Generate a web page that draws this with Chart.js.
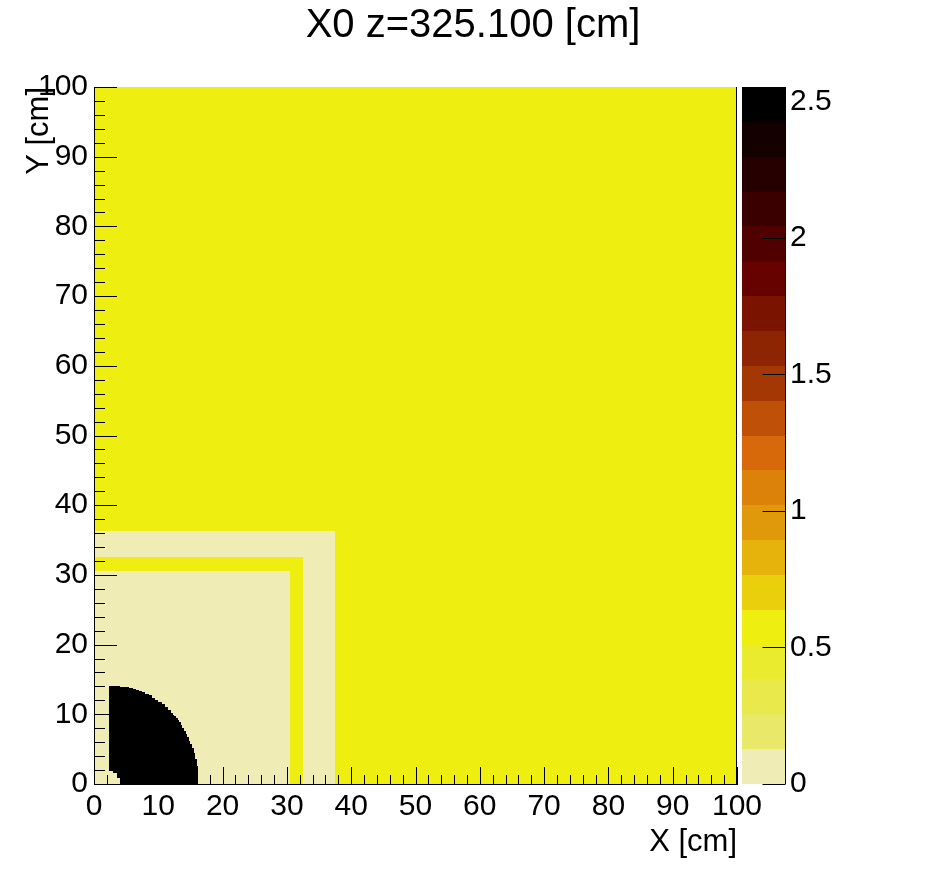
<!DOCTYPE html>
<html>
<head>
<meta charset="utf-8">
<script src="https://cdn.jsdelivr.net/npm/chart.js@4.4.0/dist/chart.umd.min.js"></script>
<style>
  html, body { margin: 0; padding: 0; background: #fff; }
</style>
</head>
<body>
<canvas id="myChart" width="946" height="872"></canvas>
<script>
// histogram regions, painted in order (later ones on top)
const regionX0 = [0, 0, 0, 0];
const regionX1 = [100, 37.5, 32.5, 30.5];
const regionY0 = [0, 0, 0, 0];
const regionY1 = [100, 36.3, 32.5, 30.6];
const regionZ = [0.56, 0.05, 0.56, 0.05];

// dense core near the origin, one column per bin
const coreEdges = [2.4, 3, 3.5, 4, 4.5, 5, 5.5, 6, 6.5, 7, 7.5, 8, 8.5, 9, 9.5, 10,
  10.5, 11, 11.5, 12, 12.25, 12.5, 12.75, 13, 13.25, 13.5, 13.75, 14, 14.25, 14.5,
  14.75, 15, 15.25, 15.5, 15.75, 16, 16.1, 16.2];
const coreBottom = [1.8, 1.55, 0.8, 0, 0, 0, 0, 0, 0, 0, 0, 0, 0, 0, 0, 0,
  0, 0, 0, 0, 0, 0, 0, 0, 0, 0, 0, 0, 0, 0, 0, 0, 0, 0, 0, 0, 0];
const coreTop = [14.0, 14.0, 14.0, 13.95, 13.9, 13.85, 13.75, 13.65, 13.5, 13.35, 13.15, 12.95,
  12.7, 12.4, 12.1, 11.8, 11.45, 11.1, 10.6, 10.25, 9.95, 9.7, 9.45, 9.2, 8.9, 8.5, 8.0,
  7.6, 7.2, 6.7, 6.2, 5.7, 5.2, 4.5, 3.6, 2.6, 1.5];
const coreZ = 2.55;

const axisTicks = [0, 10, 20, 30, 40, 50, 60, 70, 80, 90, 100];
const zMax = 2.553;
const zTicks = [0, 0.5, 1, 1.5, 2, 2.5];

// colour palette, low -> high
const palette = [
  "#EFEDB5", "#E9E868", "#E9E94B", "#EAEA2F", "#EEEE10",
  "#EACF0C", "#E6B20C", "#E0990A", "#DC820A", "#D8690A",
  "#BE5007", "#A43805", "#8E2502", "#7A1401", "#660300",
  "#510000", "#3A0000", "#260000", "#150000", "#000000",
];

const FONT = "'Liberation Sans', Arial, sans-serif";

function zColor(v) {
  let b = Math.floor((v / zMax) * palette.length);
  b = Math.max(0, Math.min(palette.length - 1, b));
  return palette[b];
}

function fillCell(ctx, x, y, x0, x1, y0, y1, color) {
  const l = Math.round(x.getPixelForValue(x0));
  const r = Math.round(x.getPixelForValue(x1));
  const t = Math.round(y.getPixelForValue(y1));
  const b = Math.round(y.getPixelForValue(y0));
  ctx.fillStyle = color;
  ctx.fillRect(l, t, r - l, b - t);
}

const histPlugin = {
  id: "hist",
  beforeDatasetsDraw(chart) {
    const { ctx, chartArea } = chart;
    const { x, y, z } = chart.scales;
    ctx.save();
    ctx.beginPath();
    ctx.rect(chartArea.left, chartArea.top, chartArea.width, chartArea.height);
    ctx.clip();
    regionZ.forEach((v, i) => {
      fillCell(ctx, x, y, regionX0[i], regionX1[i], regionY0[i], regionY1[i], zColor(v));
    });
    coreTop.forEach((t, i) => {
      fillCell(ctx, x, y, coreEdges[i], coreEdges[i + 1], coreBottom[i], t, zColor(coreZ));
    });
    ctx.restore();

    // palette box
    const n = palette.length;
    for (let b = 0; b < n; b++) {
      const top = Math.round(z.getPixelForValue(((b + 1) * zMax) / n));
      const bot = Math.round(z.getPixelForValue((b * zMax) / n));
      ctx.fillStyle = palette[b];
      ctx.fillRect(chartArea.right + 5, top, 43, bot - top);
    }
  },
  afterDraw(chart) {
    const { ctx, chartArea } = chart;
    const { x, y, z } = chart.scales;
    ctx.save();
    ctx.strokeStyle = "#000";
    ctx.lineWidth = 1;
    ctx.beginPath();
    // x ticks, pointing into the frame
    for (let v = 0; v <= 100; v += 2) {
      const px = Math.round(x.getPixelForValue(v)) + 0.5;
      const len = v % 10 === 0 ? 17 : 9;
      ctx.moveTo(px, chartArea.bottom);
      ctx.lineTo(px, chartArea.bottom - len);
    }
    // y ticks
    for (let v = 0; v <= 100; v += 2) {
      const py = Math.round(y.getPixelForValue(v)) + 0.5;
      const len = v % 10 === 0 ? 23 : 11;
      ctx.moveTo(chartArea.left, py);
      ctx.lineTo(chartArea.left + len, py);
    }
    // right frame edge
    ctx.moveTo(chartArea.right - 0.5, chartArea.top);
    ctx.lineTo(chartArea.right - 0.5, chartArea.bottom);
    // palette axis
    const zx = chartArea.right + 48.5;
    ctx.moveTo(zx, chartArea.top);
    ctx.lineTo(zx, chartArea.bottom);
    zTicks.forEach((v) => {
      const py = Math.round(z.getPixelForValue(v)) + 0.5;
      ctx.moveTo(zx, py);
      ctx.lineTo(zx - 23, py);
    });
    ctx.stroke();
    ctx.restore();
  },
};

const chart = new Chart(document.getElementById("myChart"), {
  type: "scatter",
  data: { datasets: [] },
  options: {
    responsive: false,
    animation: false,
    events: [],
    layout: { padding: 0 },
    plugins: {
      legend: { display: false },
      tooltip: { enabled: false },
      title: {
        display: true,
        text: "X0 z=325.100 [cm]",
        color: "#000",
        font: { family: FONT, size: 40, weight: "normal" },
        padding: { top: 2, bottom: 37 },
      },
    },
    scales: {
      x: {
        type: "linear",
        position: "bottom",
        min: 0,
        max: 100,
        afterBuildTicks: (s) => { s.ticks = axisTicks.map((v) => ({ value: v })); },
        afterFit: (s) => { s.height = 88; },
        grid: { display: false, drawTicks: false },
        border: { display: true, color: "#000", width: 1, z: 1 },
        ticks: { color: "#000", font: { family: FONT, size: 30 }, padding: 5, maxRotation: 0, autoSkip: false },
        title: {
          display: true, text: "X [cm]", align: "end", color: "#000",
          font: { family: FONT, size: 31 }, padding: { top: 0, bottom: 11 },
        },
      },
      y: {
        type: "linear",
        position: "left",
        min: 0,
        max: 100,
        afterBuildTicks: (s) => { s.ticks = axisTicks.map((v) => ({ value: v })); },
        afterFit: (s) => { s.width = 94; },
        grid: { display: false, drawTicks: false },
        border: { display: true, color: "#000", width: 1, z: 1 },
        ticks: { color: "#000", font: { family: FONT, size: 30 }, padding: 6, autoSkip: false },
        title: {
          display: true, text: "Y [cm]", align: "end", color: "#000",
          font: { family: FONT, size: 31 }, padding: { top: 21, bottom: 0 },
        },
      },
      z: {
        type: "linear",
        axis: "y",
        position: "right",
        min: 0,
        max: zMax,
        afterBuildTicks: (s) => { s.ticks = zTicks.map((v) => ({ value: v })); },
        afterFit: (s) => { s.width = 209; },
        grid: { display: false, drawTicks: false },
        border: { display: false },
        ticks: {
          color: "#000", font: { family: FONT, size: 30 }, padding: 53, autoSkip: false,
          callback: (v) => String(v),
        },
      },
    },
  },
  plugins: [histPlugin],
});
</script>
</body>
</html>
